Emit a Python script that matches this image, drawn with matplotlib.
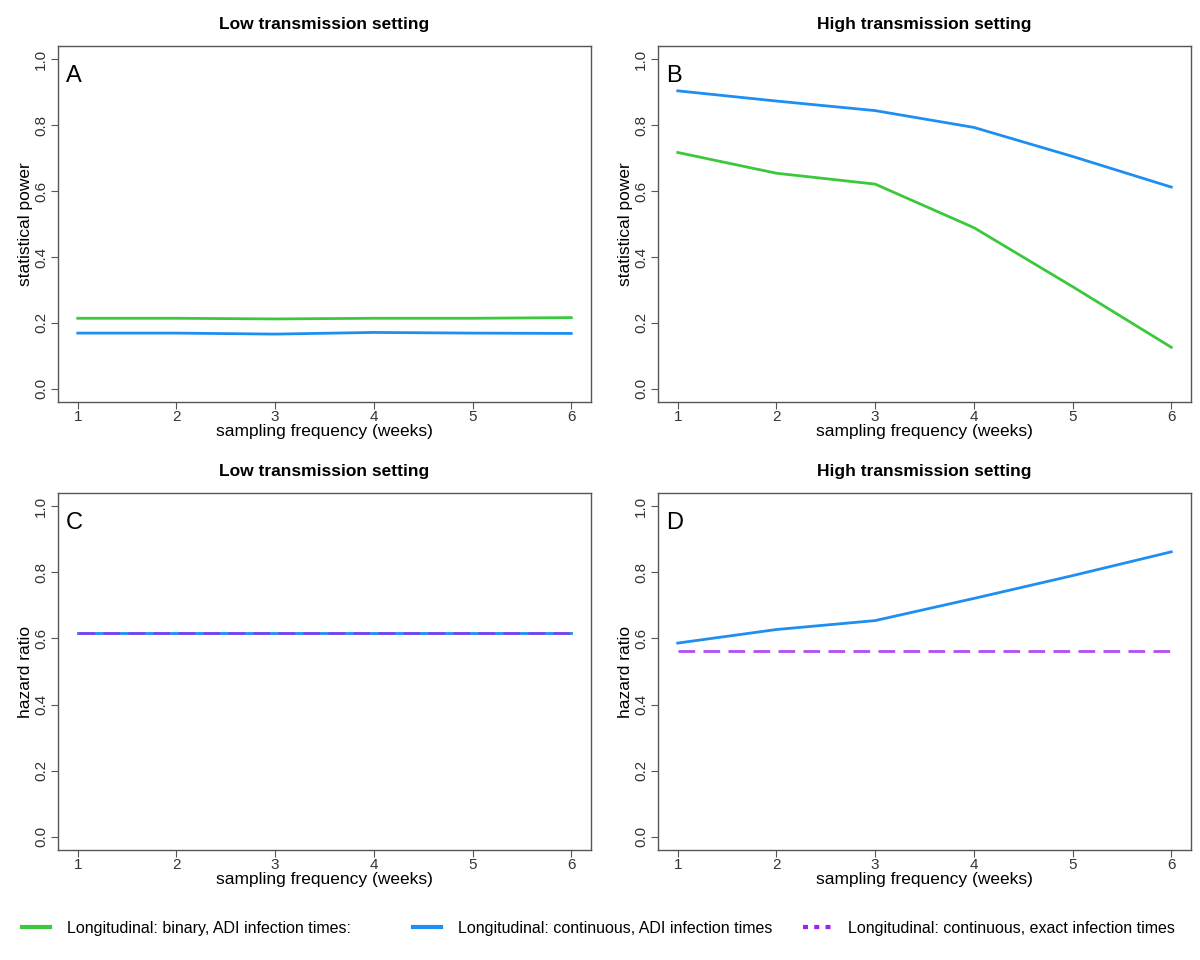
import matplotlib
matplotlib.use("Agg")
import matplotlib.pyplot as plt
from matplotlib.lines import Line2D

plt.rcParams['font.family'] = ['Liberation Sans', 'DejaVu Sans']

weeks = [1, 2, 3, 4, 5, 6]

# Panel A: low transmission, statistical power
lowA_binary = [0.214, 0.214, 0.212, 0.214, 0.214, 0.216]
lowA_cont = [0.169, 0.169, 0.166, 0.171, 0.169, 0.168]
# Panel B: high transmission, statistical power
highB_binary = [0.717, 0.654, 0.621, 0.489, 0.310, 0.126]
highB_cont = [0.904, 0.873, 0.844, 0.793, 0.705, 0.612]
# Panel C: low transmission, hazard ratio
lowC_cont = [0.617, 0.617, 0.617, 0.617, 0.617, 0.617]
lowC_exact = [0.617, 0.617, 0.617, 0.617, 0.617, 0.617]
# Panel D: high transmission, hazard ratio
highD_cont = [0.586, 0.627, 0.654, 0.721, 0.790, 0.862]
highD_exact = [0.561, 0.561, 0.561, 0.561, 0.561, 0.561]

yticks = [0.0, 0.2, 0.4, 0.6, 0.8, 1.0]
ytick_labels = ["0.0", "0.2", "0.4", "0.6", "0.8", "1.0"]

legend_labels = ["Longitudinal: binary, ADI infection times:",
                 "Longitudinal: continuous, ADI infection times",
                 "Longitudinal: continuous, exact infection times"]

GREEN = "#3cc83c"
BLUE = "#1e8ff0"
PURPLE = "#a020f0"

W, H = 1200, 960
fig = plt.figure(figsize=(12, 9.6), dpi=100)

def px_axes(l, r, t, b):
    return fig.add_axes([l / W, 1 - b / H, (r - l) / W, (b - t) / H])

boxes = [
    (58, 591, 46, 402, "Low transmission setting", "statistical power", "A"),
    (658, 1191, 46, 402, "High transmission setting", "statistical power", "B"),
    (58, 591, 493, 850, "Low transmission setting", "hazard ratio", "C"),
    (658, 1191, 493, 850, "High transmission setting", "hazard ratio", "D"),
]

axes = []
for (l, r, t, b, title, ylab, letter) in boxes:
    ax = px_axes(l, r, t, b)
    ax.set_xlim(0.8, 6.2)
    ax.set_ylim(-0.04, 1.04)
    ax.set_xticks(weeks)
    ax.set_xticklabels([str(w) for w in weeks], fontsize=11, color="#333333")
    ax.set_yticks(yticks)
    ax.set_yticklabels(ytick_labels, fontsize=11, color="#333333", rotation=90, va="center")
    for s in ax.spines.values():
        s.set_color("#555555")
        s.set_linewidth(1.0)
    ax.tick_params(direction="out", length=5, width=0.8, color="#555555", pad=2)
    ax.tick_params(axis="x", pad=0.5)
    ax.set_title(title, fontsize=12.5, fontweight="bold", pad=12)
    ax.set_xlabel("sampling frequency (weeks)", fontsize=12.5, labelpad=0)
    ax.set_ylabel(ylab, fontsize=12.5, labelpad=1)
    ax.text(0.015, 0.915, letter, transform=ax.transAxes, fontsize=17, ha="left", va="center")
    axes.append(ax)

lw = 2.0
axA, axB, axC, axD = axes
axA.plot(weeks, lowA_binary, color=GREEN, lw=lw)
axA.plot(weeks, lowA_cont, color=BLUE, lw=lw)
axB.plot(weeks, highB_binary, color=GREEN, lw=lw)
axB.plot(weeks, highB_cont, color=BLUE, lw=lw)
axC.plot(weeks, lowC_cont, color=BLUE, lw=lw)
axC.plot(weeks, lowC_exact, color=PURPLE, lw=lw, ls=(0, (6, 3)), alpha=0.7)
axD.plot(weeks, highD_cont, color=BLUE, lw=lw)
axD.plot(weeks, highD_exact, color=PURPLE, lw=lw, ls=(0, (6, 3)), alpha=0.8)

handles = [
    Line2D([0], [0], color=GREEN, lw=3),
    Line2D([0], [0], color=BLUE, lw=3),
    Line2D([0], [0], color=PURPLE, lw=3, ls=(0, (1.2, 1.5))),
]
xs = [22, 413, 803]
for h, lab, x in zip(handles, legend_labels, xs):
    fig.legend([h], [lab], loc="center left", bbox_to_anchor=(x / W, 1 - 928 / H),
               frameon=False, fontsize=11.5, handlelength=1.75, handletextpad=1.05,
               borderaxespad=0, borderpad=0)

fig.savefig("out.png", dpi=100, facecolor="white")
